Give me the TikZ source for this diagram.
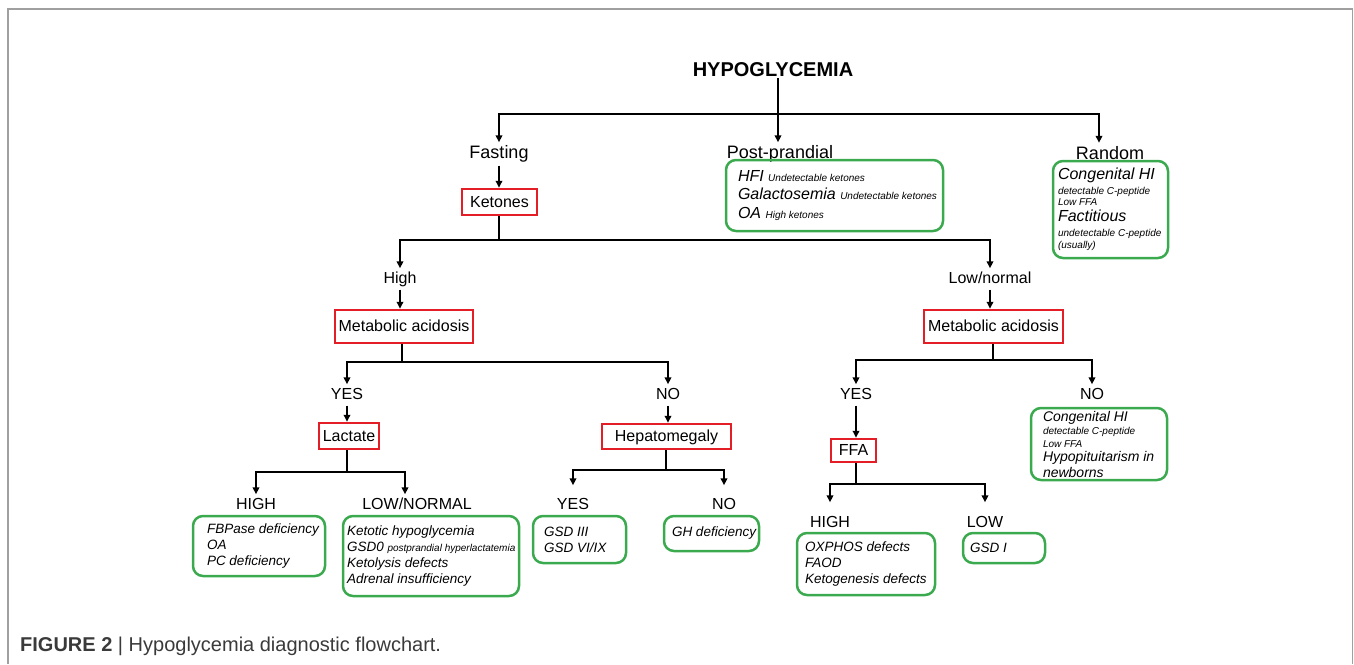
\documentclass[tikz,border=0pt]{standalone}
\usepackage{fontspec}
\setmainfont{Liberation Sans}
\usetikzlibrary{arrows.meta,calc}
\definecolor{redbox}{HTML}{E41E26}
\definecolor{greenbox}{HTML}{3BAA4E}
\definecolor{framegray}{HTML}{A0A0A0}
\definecolor{capgray}{HTML}{3A3A3A}
\newcommand\smf{\fontsize{10}{12}\selectfont\spaceskip=0pt\xspaceskip=0pt\relax}
\begin{document}
\begin{tikzpicture}[x=1pt,y=-1pt,
  conn/.style={line width=2pt, black},
  arr/.style={conn, -{Triangle[length=7pt,width=6.5pt]}},
  lab/.style={font=\fontsize{16}{19}\selectfont, text height=11.5pt, text depth=3.4pt, inner xsep=1pt, inner ysep=3pt, anchor=base},
  toplab/.style={font=\fontsize{18}{21}\selectfont, text height=13pt, text depth=3.8pt, inner xsep=1pt, inner ysep=3pt, anchor=base},
  qbox/.style={draw=redbox, line width=2.5pt, font=\fontsize{16}{19}\selectfont, inner sep=0pt, text height=11.5pt, text depth=1pt},
  gbox/.style={draw=greenbox, line width=2.5pt, rounded corners=10pt, align=left, inner ysep=0pt,
     font={\itshape\fontsize{13.5}{16}\selectfont\lineskiplimit=-30pt},
     execute at begin node={\spaceskip=0pt\xspaceskip=0pt\relax}},
]
\useasboundingbox (0,0) rectangle (1354,664);
% frame
\draw[framegray, line width=1.5pt] (8,664) -- (8,9) -- (1352.5,9) -- (1352.5,664);

% title and top labels
\node[font=\bfseries\fontsize{20}{24}\selectfont, inner sep=1pt] (title) at (773,70) {HYPOGLYCEMIA};
\node[toplab] (fast) at (499,158.5) {Fasting};
\node[toplab] (postl) at (780,158.5) {Post-prandial};
\node[toplab] (randl) at (1110,159) {Random};

% red question boxes
\node[qbox, minimum width=75pt, minimum height=26pt] (ket) at (499.5,202) {Ketones};
\node[qbox, minimum width=138pt, minimum height=33pt] (ma1) at (404,326.5) {Metabolic acidosis};
\node[qbox, minimum width=139pt, minimum height=33pt] (ma2) at (993.5,326.5) {Metabolic acidosis};
\node[qbox, minimum width=60pt, minimum height=26pt] (lac) at (349,436) {Lactate};
\node[qbox, minimum width=129pt, minimum height=25pt] (hep) at (666.5,436.5) {Hepatomegaly};
\node[qbox, minimum width=45pt, minimum height=23pt] (ffa) at (853.5,450.5) {FFA};

% branch labels
\node[lab] (high) at (400,283) {High};
\node[lab] (lown) at (990,283) {Low/normal};
\node[lab] (yes1) at (347,399) {YES};
\node[lab] (no1) at (668,399) {NO};
\node[lab] (yes3) at (856,399) {YES};
\node[lab] (no3) at (1092,399) {NO};
\node[lab] (hi2) at (256,509) {HIGH};
\node[lab] (ln2) at (417,509) {LOW/NORMAL};
\node[lab] (yes2) at (573,509) {YES};
\node[lab] (no2) at (724,509) {NO};
\node[lab] (hi3) at (830,527) {HIGH};
\node[lab] (lo3) at (985,527) {LOW};

% green result boxes
\node[gbox, font={\itshape\fontsize{16}{18.5}\selectfont}, minimum width=217pt, minimum height=71pt, inner xsep=12pt, text width=193pt] (postb) at (834.5,195.5)
  {\mbox{HFI {\smf Undetectable ketones}}\\\mbox{Galactosemia {\smf Undetectable ketones}}\\\mbox{OA {\smf High ketones}}};
\node[gbox, font={\itshape\fontsize{16}{16}\selectfont\lineskiplimit=-30pt}, minimum width=115pt, minimum height=97pt, inner xsep=5pt, text width=105pt] (randb) at (1110.5,209.5)
  {\mbox{Congenital HI}\\[-1pt]\mbox{\smf detectable C-peptide}\\[-5pt]\mbox{\smf Low FFA}\\[0pt]\mbox{Factitious}\\[-1pt]\mbox{\smf undetectable C-peptide}\\[-4pt]\mbox{\smf (usually)}};
\node[gbox, minimum width=132pt, minimum height=60pt, inner xsep=14pt, text width=104pt] (hib) at (259,546)
  {\mbox{FBPase deficiency}\\\mbox{OA}\\\mbox{PC deficiency}};
\node[gbox, minimum width=176pt, minimum height=80pt, inner xsep=4pt, text width=168pt] (lnb) at (431,556)
  {\mbox{Ketotic hypoglycemia}\\\mbox{GSD0 {\smf postprandial hyperlactatemia}}\\\mbox{Ketolysis defects}\\\mbox{Adrenal insufficiency}};
\node[gbox, minimum width=93pt, minimum height=47pt, inner xsep=11pt, text width=71pt] (gsdb) at (579.5,539.5)
  {\mbox{GSD III}\\\mbox{GSD VI/IX}};
\node[gbox, minimum width=95pt, minimum height=35pt, inner xsep=8pt, text width=79pt] (ghb) at (711.5,533.5)
  {\mbox{GH deficiency}};
\node[gbox, minimum width=138pt, minimum height=62pt, inner xsep=8pt, text width=122pt] (oxb) at (866,564)
  {\mbox{OXPHOS defects}\\\mbox{FAOD}\\\mbox{Ketogenesis defects}};
\node[gbox, minimum width=82pt, minimum height=30pt, inner xsep=7pt, text width=68pt] (gsdib) at (1004,548)
  {\mbox{GSD I}};
\node[gbox, font={\itshape\fontsize{14}{16}\selectfont\lineskiplimit=-30pt}, minimum width=136pt, minimum height=72pt, inner xsep=12pt, text width=112pt] (nob) at (1099,444)
  {\mbox{Congenital HI}\\[-3pt]\mbox{\smf detectable C-peptide}\\[-3pt]\mbox{\smf Low FFA}\\[-2pt]\mbox{Hypopituitarism in}\\\mbox{newborns}};

% split points
\coordinate (t0) at (778,114);
\coordinate (kb) at (499,240);
\coordinate (b1) at (402,362);
\coordinate (b2) at (993,360);
\coordinate (lb) at (347,472);
\coordinate (hb) at (666,470);
\coordinate (fb) at (856,484);

% connectors
\draw[conn] (title.south -| t0) -- (t0);
\draw[arr] (t0) -| (fast.north);
\draw[arr] (t0) -- (t0 |- postl.north);
\draw[arr] (t0) -| ([xshift=-11pt]randl.north);
\draw[arr] (fast.south) -- (fast.south |- ket.north);
\draw[conn] (ket.south -| kb) -- (kb);
\draw[arr] (kb) -| (high.north);
\draw[arr] (kb) -| (lown.north);
\draw[arr] (high.south) -- (high.south |- ma1.north);
\draw[arr] (lown.south) -- (lown.south |- ma2.north);
\draw[conn] (ma1.south -| b1) -- (b1);
\draw[arr] (b1) -| (yes1.north);
\draw[arr] (b1) -| (no1.north);
\draw[conn] (ma2.south -| b2) -- (b2);
\draw[arr] (b2) -| (yes3.north);
\draw[arr] (b2) -| (no3.north);
\draw[arr] (yes1.south) -- (yes1.south |- lac.north);
\draw[arr] (no1.south) -- (no1.south |- hep.north);
\draw[arr] (yes3.south) -- (yes3.south |- ffa.north);
\draw[conn] (lac.south -| lb) -- (lb);
\draw[arr] (lb) -| (hi2.north);
\draw[arr] (lb) -| ([xshift=-12pt]ln2.north);
\draw[conn] (hep.south -| hb) -- (hb);
\draw[arr, shorten >=9pt] (hb) -| (yes2.north);
\draw[arr, shorten >=9pt] (hb) -| (no2.north);
\draw[conn] (ffa.south -| fb) -- (fb);
\draw[arr, shorten >=10pt] (fb) -| (hi3.north);
\draw[arr, shorten >=10pt] (fb) -| (lo3.north);

% caption
\node[anchor=base west, inner sep=0pt, font=\fontsize{20}{24}\selectfont, text=capgray] (cap) at (20,651)
  {\textbf{FIGURE 2} | Hypoglycemia diagnostic flowchart.};
\end{tikzpicture}
\end{document}
